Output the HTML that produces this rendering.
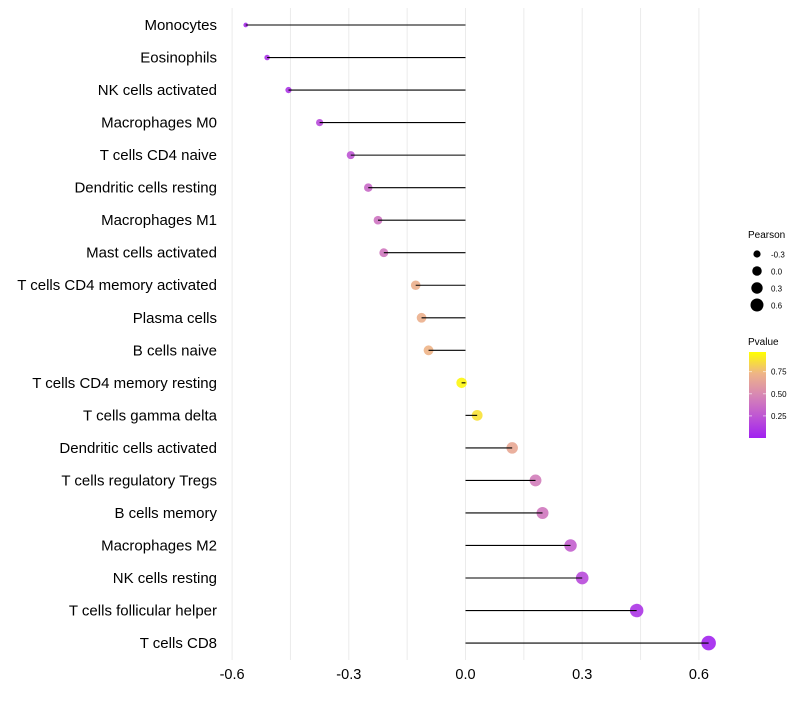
<!DOCTYPE html>
<html><head><meta charset="utf-8"><style>
body{margin:0;background:#fff;}
svg text{font-family:"Liberation Sans",sans-serif;}
</style></head><body>
<svg id="chart" width="800" height="700">
<g id="grid"></g><g id="marks"></g><g id="labels"></g><g id="legend"></g>
</svg>
<script>
const categories=["Monocytes","Eosinophils","NK cells activated","Macrophages M0","T cells CD4 naive","Dendritic cells resting","Macrophages M1","Mast cells activated","T cells CD4 memory activated","Plasma cells","B cells naive","T cells CD4 memory resting","T cells gamma delta","Dendritic cells activated","T cells regulatory  Tregs ","B cells memory","Macrophages M2","NK cells resting","T cells follicular helper","T cells CD8"];
const pearson=[-0.565,-0.51,-0.455,-0.375,-0.295,-0.25,-0.225,-0.21,-0.128,-0.113,-0.095,-0.01,0.03,0.12,0.18,0.198,0.27,0.3,0.44,0.625];
const pvalues=[0.05,0.08,0.1,0.2,0.25,0.35,0.4,0.42,0.72,0.72,0.75,0.97,0.9,0.68,0.45,0.42,0.3,0.2,0.1,0.02];
const xTicks=[-0.6,-0.3,0.0,0.3,0.6];
const xTickLabels=["-0.6","-0.3","0.0","0.3","0.6"];
const sizeLegend=[-0.3,0.0,0.3,0.6];
const colorLegend=[0.25,0.5,0.75];

const NS="http://www.w3.org/2000/svg";
const X=v=>465.5+v*389;
const Y=i=>25+i*32.53;
const R=v=>Math.sqrt(Math.max(4,28+40*v));
const stops=[[0,[160,32,240]],[0.25,[190,85,212]],[0.5,[215,135,180]],[0.75,[238,180,135]],[1,[255,255,0]]];
function col(p){for(let k=1;k<stops.length;k++){if(p<=stops[k][0]){const a=stops[k-1],b=stops[k],t=(p-a[0])/(b[0]-a[0]);return 'rgb('+a[1].map((c,j)=>Math.round(c+(b[1][j]-c)*t)).join(',')+')';}}return 'rgb(255,255,0)';}
function mk(tag,attrs,parent){const e=document.createElementNS(NS,tag);for(const k in attrs)e.setAttribute(k,attrs[k]);parent.appendChild(e);return e;}
const grid=document.getElementById('grid'),marks=document.getElementById('marks'),labels=document.getElementById('labels'),legend=document.getElementById('legend');
for(let v=-0.6;v<=0.61;v+=0.15){const g=mk('line',{x1:X(v),x2:X(v),y1:8,y2:660,stroke:'#ebebeb','stroke-width':1},grid);

}
xTicks.forEach((v,i)=>{const t=mk('text',{x:X(v),y:679,'text-anchor':'middle','font-size':14.5,fill:'#000'},labels);t.textContent=xTickLabels[i];

});
categories.forEach((c,i)=>{
const t=mk('text',{x:217,y:Y(i)+5,'text-anchor':'end','font-size':15,fill:'#000'},labels);t.textContent=c;


const p=mk('circle',{cx:X(pearson[i]),cy:Y(i),r:R(pearson[i]),fill:col(pvalues[i]),'fill-opacity':0.9},marks);


const l=mk('line',{x1:X(0),x2:X(pearson[i]),y1:Y(i),y2:Y(i),stroke:'#000','stroke-width':1.1},marks);


});
let t=mk('text',{x:748,y:238,'font-size':10,fill:'#000'},legend);t.textContent='Pearson';


sizeLegend.forEach((v,i)=>{const y=254+i*17;
const c=mk('circle',{cx:757,cy:y,r:R(v)*0.9,fill:'#000'},legend);


const tx=mk('text',{x:771,y:y+3.5,'font-size':8,fill:'#000'},legend);tx.textContent=['-0.3','0.0','0.3','0.6'][i];

});
t=mk('text',{x:748,y:345,'font-size':10,fill:'#000'},legend);t.textContent='Pvalue';


const defs=mk('defs',{},legend);const lg=mk('linearGradient',{id:'pg',x1:0,y1:1,x2:0,y2:0},defs);
stops.forEach(s=>mk('stop',{offset:s[0],'stop-color':col(s[0])},lg));
const bar=mk('rect',{x:749,y:352,width:17,height:86,fill:'url(#pg)'},legend);


colorLegend.forEach(v=>{const y=438-v*88.5;
mk('line',{x1:749,x2:752,y1:y,y2:y,stroke:'#fff','stroke-opacity':0.6},legend);
mk('line',{x1:763,x2:766,y1:y,y2:y,stroke:'#fff','stroke-opacity':0.6},legend);
const tx=mk('text',{x:771,y:y+3,'font-size':8,fill:'#000'},legend);tx.textContent=v.toFixed(2);

});
</script>
</body></html>
